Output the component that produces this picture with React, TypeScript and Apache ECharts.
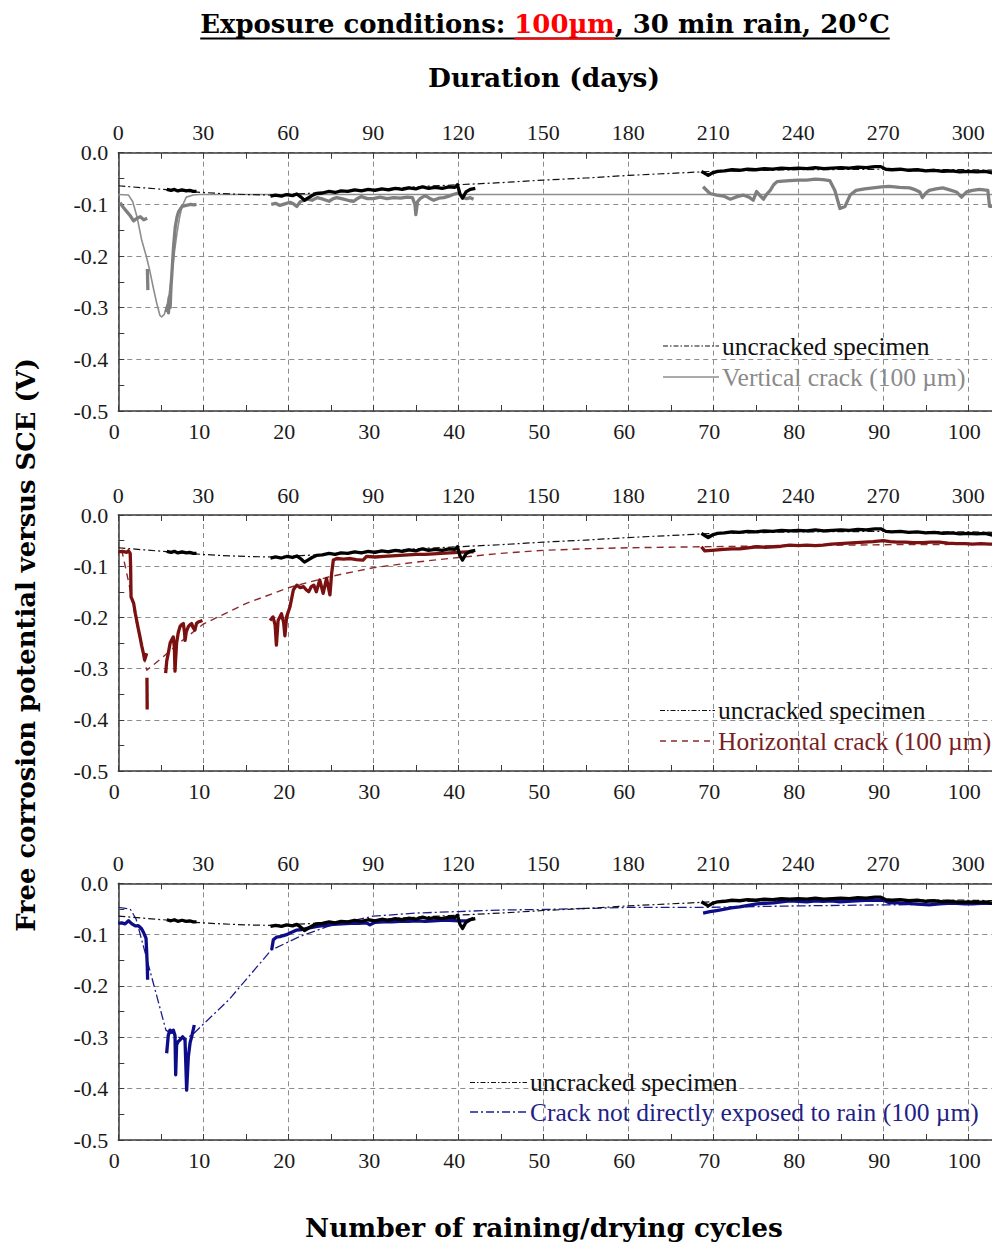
import React, { useEffect, useRef } from 'react';
import * as echarts from 'echarts';

// ---------- tick labels ----------
const CYCLE_TICKS = [0, 10, 20, 30, 40, 50, 60, 70, 80, 90, 100];
const DAY_TICKS = [0, 30, 60, 90, 120, 150, 180, 210, 240, 270, 300];
const POT_TICKS = [0, -0.1, -0.2, -0.3, -0.4, -0.5];
const DAYS_PER_CYCLE = 3;
const X_MAX = 103.7;

// ---------- uncracked specimen (same specimen in all three panels) ----------
const UNC_FIT = [[0,-0.064],[3,-0.068],[6,-0.072],[9,-0.076],[12,-0.079],[15,-0.081],[18,-0.082],[22,-0.079],[26,-0.075],[30,-0.071],[35,-0.066],[40,-0.062],[45,-0.058],[50,-0.053],[55,-0.049],[60,-0.044],[65,-0.040],[70,-0.036],[80,-0.033],[90,-0.032],[100,-0.033],[103.7,-0.034]];
const UNC_A = [[5.7,-0.071],[6.2,-0.073],[6.6,-0.071],[7.0,-0.074],[7.5,-0.072],[8.0,-0.074],[8.4,-0.073],[8.8,-0.075],[9.2,-0.075]];
const UNC_B = [[17.9,-0.084],[18.5,-0.082],[19.2,-0.084],[19.8,-0.081],[20.5,-0.083],[21.0,-0.080],[21.5,-0.086],[21.9,-0.092],[22.3,-0.088],[22.8,-0.083],[23.3,-0.079],[24.0,-0.078],[24.8,-0.075],[25.5,-0.077],[26.2,-0.074],[27.0,-0.075],[27.8,-0.072],[28.6,-0.074],[29.4,-0.071],[30.2,-0.073],[31.0,-0.070],[31.8,-0.072],[32.6,-0.069],[33.4,-0.071],[34.2,-0.068],[35.0,-0.070],[35.8,-0.066],[36.5,-0.069],[37.3,-0.067],[38.1,-0.069],[38.9,-0.066],[39.6,-0.067],[39.9,-0.062],[40.2,-0.080],[40.5,-0.088],[40.9,-0.076],[41.4,-0.071],[42.0,-0.069]];
const UNC_C = [[68.6,-0.036],[69.0,-0.040],[69.4,-0.044],[69.9,-0.039],[70.5,-0.036],[71.3,-0.035],[72.2,-0.033],[73.1,-0.034],[74.0,-0.032],[75.0,-0.033],[76.0,-0.031],[77.0,-0.032],[78.0,-0.030],[79.0,-0.031],[80.0,-0.030],[81.0,-0.031],[82.0,-0.029],[83.0,-0.031],[84.0,-0.030],[85.0,-0.029],[86.0,-0.030],[87.0,-0.028],[88.0,-0.029],[89.0,-0.027],[89.7,-0.027],[90.3,-0.032],[91.0,-0.033],[92.0,-0.032],[93.0,-0.034],[94.0,-0.033],[95.0,-0.035],[96.0,-0.034],[97.0,-0.036],[98.0,-0.035],[99.0,-0.037],[100.0,-0.036],[101.0,-0.037],[102.0,-0.036],[103.0,-0.040],[103.7,-0.041]];

// ---------- vertical crack (panel 1) ----------
const VC_FIT = [[0,-0.081],[1.2,-0.082],[1.7,-0.095],[2.2,-0.124],[2.75,-0.169],[3.3,-0.201],[3.7,-0.228],[4.1,-0.26],[4.5,-0.29],[4.9,-0.315],[5.1,-0.318],[5.4,-0.313],[5.7,-0.299],[6.0,-0.272],[6.3,-0.234],[6.6,-0.193],[6.9,-0.156],[7.2,-0.126],[7.5,-0.104],[8.0,-0.086],[8.8,-0.082],[9.5,-0.081],[103.7,-0.081]];
const VC_A = [[0.2,-0.097],[0.6,-0.106],[1.0,-0.114],[1.4,-0.122],[1.8,-0.132],[2.2,-0.127],[2.6,-0.124],[3.0,-0.130],[3.4,-0.127]];
const VC_A2 = [[3.42,-0.225],[3.48,-0.266]];
const VC_A3 = [[5.6,-0.308],[5.8,-0.296],[5.9,-0.31],[6.0,-0.28],[6.1,-0.30],[6.2,-0.26],[6.3,-0.235],[6.5,-0.182],[6.7,-0.144],[6.9,-0.125],[7.1,-0.114],[7.5,-0.104],[8.0,-0.102],[8.5,-0.100],[8.9,-0.101],[9.2,-0.100]];
const VC_B = [[18.0,-0.100],[18.5,-0.098],[19.0,-0.102],[19.6,-0.099],[20.2,-0.096],[20.6,-0.099],[21.0,-0.104],[21.4,-0.095],[22.2,-0.090],[22.8,-0.092],[23.4,-0.087],[24.1,-0.090],[24.8,-0.094],[25.3,-0.089],[25.7,-0.087],[26.5,-0.090],[27.2,-0.093],[27.7,-0.094],[28.2,-0.088],[28.6,-0.085],[29.3,-0.089],[30.0,-0.089],[30.8,-0.086],[31.6,-0.089],[32.4,-0.087],[33.2,-0.088],[34.0,-0.086],[34.6,-0.087],[34.9,-0.100],[35.0,-0.120],[35.2,-0.095],[35.5,-0.089],[36.1,-0.083],[36.6,-0.088],[37.1,-0.092],[37.7,-0.088],[38.3,-0.087],[38.9,-0.084],[39.4,-0.081],[40.0,-0.078],[40.3,-0.082],[40.6,-0.087],[41.0,-0.089],[41.4,-0.087],[41.8,-0.090]];
const VC_C = [[68.8,-0.066],[69.6,-0.079],[70.4,-0.082],[71.2,-0.084],[72.0,-0.090],[72.8,-0.085],[73.5,-0.082],[74.2,-0.086],[74.7,-0.092],[75.1,-0.075],[75.5,-0.083],[75.9,-0.090],[76.3,-0.080],[76.7,-0.073],[77.1,-0.062],[77.5,-0.056],[78.2,-0.055],[79.0,-0.054],[80.0,-0.053],[81.0,-0.053],[82.0,-0.051],[82.9,-0.052],[83.7,-0.054],[84.3,-0.073],[84.9,-0.108],[85.5,-0.104],[86.1,-0.082],[86.8,-0.073],[87.8,-0.070],[88.8,-0.068],[89.8,-0.066],[90.7,-0.065],[91.9,-0.067],[93.1,-0.068],[93.8,-0.072],[94.3,-0.076],[94.6,-0.087],[95.0,-0.078],[95.4,-0.073],[96.2,-0.070],[97.0,-0.068],[97.8,-0.072],[98.6,-0.076],[99.2,-0.086],[99.8,-0.076],[100.5,-0.073],[101.3,-0.071],[102.3,-0.073],[102.5,-0.104],[103.7,-0.104]];

// ---------- horizontal crack (panel 2) ----------
const HC_FIT = [[0.4,-0.068],[1.2,-0.13],[2.2,-0.215],[3.35,-0.303],[5,-0.281],[7,-0.252],[10,-0.213],[15,-0.173],[20,-0.142],[25,-0.120],[30,-0.103],[35,-0.092],[40,-0.083],[45,-0.075],[50,-0.069],[55,-0.066],[60,-0.064],[68.5,-0.062],[80,-0.060],[90,-0.058],[103.7,-0.057]];
const HC_A = [[0,-0.072],[0.5,-0.071],[1.0,-0.073],[1.2,-0.070],[1.4,-0.075],[1.45,-0.101],[1.5,-0.160],[1.8,-0.172],[2.0,-0.192],[2.15,-0.205],[2.35,-0.222],[2.55,-0.238],[2.75,-0.255],[2.95,-0.270],[3.1,-0.283],[3.2,-0.278],[3.33,-0.270]];
const HC_A2 = [[3.37,-0.318],[3.40,-0.380]];
const HC_A3 = [[5.57,-0.309],[5.7,-0.285],[5.88,-0.270],[6.1,-0.250],[6.27,-0.244],[6.47,-0.238],[6.6,-0.260],[6.67,-0.305],[6.75,-0.280],[6.86,-0.250],[7.05,-0.230],[7.26,-0.218],[7.45,-0.214],[7.65,-0.212],[7.8,-0.230],[7.85,-0.245],[8.0,-0.228],[8.24,-0.218],[8.45,-0.214],[8.63,-0.212],[8.8,-0.220],[9.0,-0.225],[9.2,-0.212],[9.4,-0.209],[9.9,-0.206]];
const HC_B = [[17.85,-0.206],[18.2,-0.199],[18.45,-0.215],[18.6,-0.254],[18.8,-0.206],[19.2,-0.193],[19.45,-0.210],[19.6,-0.236],[19.8,-0.199],[20.2,-0.179],[20.6,-0.146],[21.0,-0.137],[21.4,-0.142],[21.8,-0.140],[22.1,-0.146],[22.4,-0.150],[22.7,-0.140],[23.0,-0.137],[23.3,-0.150],[23.7,-0.127],[24.1,-0.153],[24.5,-0.124],[24.9,-0.156],[25.1,-0.114],[25.3,-0.088],[25.7,-0.085],[26.5,-0.086],[27.3,-0.085],[28.0,-0.087],[28.8,-0.088],[29.2,-0.081],[30.2,-0.082],[31.2,-0.081],[32.2,-0.080],[33.1,-0.079],[34.1,-0.078],[35.1,-0.077],[36.1,-0.077],[37.1,-0.076],[38.0,-0.075],[39.0,-0.074],[40.0,-0.073],[41.0,-0.072],[41.8,-0.072]];
const HC_C = [[68.6,-0.062],[69.0,-0.070],[69.8,-0.069],[70.5,-0.068],[71.2,-0.067],[72.2,-0.066],[73.1,-0.066],[74.1,-0.064],[75.1,-0.062],[76.1,-0.063],[77.1,-0.062],[78.0,-0.061],[79.0,-0.059],[80.0,-0.060],[81.0,-0.059],[82.0,-0.060],[82.9,-0.059],[83.9,-0.057],[84.9,-0.056],[85.8,-0.055],[86.8,-0.054],[87.8,-0.053],[88.8,-0.052],[90.0,-0.050],[90.8,-0.052],[91.6,-0.053],[92.6,-0.053],[93.6,-0.054],[94.6,-0.054],[95.6,-0.053],[96.6,-0.053],[97.6,-0.055],[98.6,-0.056],[99.6,-0.056],[100.5,-0.057],[101.5,-0.056],[102.5,-0.057],[103.7,-0.057]];

// ---------- crack not directly exposed to rain (panel 3) ----------
const NC_FIT = [[0,-0.047],[1.4,-0.050],[2.1,-0.070],[3.4,-0.150],[5.6,-0.286],[6.5,-0.296],[7.4,-0.302],[8.0,-0.303],[8.9,-0.292],[13,-0.227],[18,-0.130],[21.3,-0.104],[25,-0.082],[30,-0.064],[35,-0.058],[40,-0.055],[45,-0.052],[50,-0.051],[60,-0.047],[68.6,-0.047],[80,-0.044],[90,-0.042],[103.7,-0.040]];
const NC_A = [[0,-0.078],[0.4,-0.077],[0.8,-0.079],[1.2,-0.073],[1.6,-0.079],[2.0,-0.083],[2.4,-0.083],[2.75,-0.089],[3.0,-0.097],[3.26,-0.107],[3.33,-0.130],[3.41,-0.162],[3.45,-0.188]];
const NC_A3 = [[5.69,-0.331],[5.88,-0.296],[6.08,-0.286],[6.3,-0.290],[6.47,-0.286],[6.67,-0.296],[6.75,-0.373],[6.86,-0.315],[7.05,-0.308],[7.26,-0.305],[7.57,-0.299],[7.85,-0.305],[8.04,-0.403],[8.24,-0.338],[8.45,-0.310],[8.63,-0.299],[8.94,-0.276]];
const NC_B = [[18.04,-0.130],[18.24,-0.110],[18.6,-0.105],[19.0,-0.104],[19.4,-0.102],[19.8,-0.100],[20.2,-0.097],[20.6,-0.094],[21.0,-0.091],[21.6,-0.090],[22.2,-0.088],[22.8,-0.086],[23.4,-0.084],[24.3,-0.082],[25.3,-0.080],[26.3,-0.079],[27.3,-0.078],[28.3,-0.078],[29.2,-0.077],[29.6,-0.081],[30.2,-0.076],[31.2,-0.075],[32.2,-0.075],[33.1,-0.074],[34.1,-0.074],[35.1,-0.073],[36.1,-0.074],[37.1,-0.073],[38.0,-0.072],[39.0,-0.072],[40.0,-0.073],[41.0,-0.073],[41.8,-0.068]];
const NC_C = [[68.8,-0.058],[69.6,-0.055],[70.4,-0.053],[71.2,-0.051],[72.1,-0.048],[73.1,-0.046],[74.1,-0.043],[75.1,-0.040],[76.1,-0.039],[77.1,-0.038],[78.0,-0.036],[79.0,-0.034],[80.0,-0.035],[81.0,-0.036],[82.0,-0.034],[82.9,-0.035],[83.9,-0.034],[84.9,-0.036],[85.8,-0.035],[86.8,-0.034],[87.8,-0.033],[88.8,-0.033],[90.0,-0.033],[90.7,-0.038],[91.7,-0.038],[92.7,-0.039],[93.6,-0.040],[94.5,-0.041],[95.4,-0.042],[96.6,-0.040],[97.6,-0.039],[98.6,-0.039],[99.6,-0.040],[100.5,-0.040],[101.5,-0.039],[102.5,-0.039],[103.7,-0.040]];

// ---------- texts ----------
const TITLE_PARTS = ['Exposure conditions: ', '100µm', ', 30 min rain, 20°C'];
const TOP_TITLE = 'Duration (days)';
const Y_TITLE = 'Free corrosion potential versus SCE (V)';
const X_TITLE = 'Number of raining/drying cycles';
const LEGEND_UNC = 'uncracked specimen';
const LEGEND_CRACKS = ['Vertical crack (100 µm)', 'Horizontal crack (100 µm)', 'Crack not directly exposed to rain (100 µm)'];

const SERIF = '"Liberation Serif", "Times New Roman", serif';
const BOLD = '"DejaVu Serif", serif';
const AXIS = '#3a3a3a';
const GRIDC = '#8c8c8c';
const GRAY = '#7f7f7f';
const RED = '#7a1010';
const BLUE = '#0d0d8a';

const GRID_LEFT = 118.3;
const PX_PER_CYCLE = 8.5;
const GRID_TOPS = [152.7, 515, 883.3];
const GRID_HS = [258.3, 256, 256.7];

function measure(text: string, font: string) {
  const c = document.createElement('canvas').getContext('2d');
  if (!c) return text.length * 10;
  c.font = font;
  return c.measureText(text).width;
}
function fitSize(text: string, weight: string, family: string, target: number) {
  const w = measure(text, `${weight} 20px ${family}`);
  return (20 * target) / w;
}

export default function App() {
  const ref = useRef<HTMLDivElement>(null);
  useEffect(() => {
    if (!ref.current) return;
    const chart = echarts.init(ref.current, null, { renderer: 'svg' });

    const xAxes: any[] = [];
    const yAxes: any[] = [];
    const grids: any[] = [];
    GRID_TOPS.forEach((top, i) => {
      grids.push({ left: GRID_LEFT, top, width: X_MAX * PX_PER_CYCLE, height: GRID_HS[i] });
      xAxes.push({
        type: 'value', gridIndex: i, position: 'bottom',
        min: CYCLE_TICKS[0], max: X_MAX, interval: CYCLE_TICKS[1] - CYCLE_TICKS[0],
        axisLine: { show: true, onZero: false, lineStyle: { color: AXIS, width: 1.5 } },
        axisTick: { show: true, inside: true, length: 6, lineStyle: { color: AXIS } },
        minorTick: { show: true, splitNumber: 2, length: 6, lineStyle: { color: AXIS } },
        splitLine: { show: true, lineStyle: { color: GRIDC, width: 1, type: [5, 4] } },
        axisLabel: {
          showMaxLabel: false, fontFamily: SERIF, fontSize: 22, color: '#1a1a1a', margin: 9, padding: [0, 8, 0, 0],
          formatter: (v: number) => (CYCLE_TICKS.includes(Math.round(v)) ? String(Math.round(v)) : ''),
        },
      });
      xAxes.push({
        type: 'value', gridIndex: i, position: 'top',
        min: DAY_TICKS[0], max: X_MAX * DAYS_PER_CYCLE, interval: DAY_TICKS[1] - DAY_TICKS[0],
        axisLine: { show: true, onZero: false, lineStyle: { color: AXIS, width: 1.5 } },
        axisTick: { show: true, inside: true, length: 6, lineStyle: { color: AXIS } },
        minorTick: { show: true, splitNumber: 2, length: 6, lineStyle: { color: AXIS } },
        splitLine: { show: false },
        axisLabel: {
          showMaxLabel: false, fontFamily: SERIF, fontSize: 22, color: '#1a1a1a', margin: 9,
          formatter: (v: number) => (DAY_TICKS.includes(Math.round(v)) ? String(Math.round(v)) : ''),
        },
      });
      yAxes.push({
        type: 'value', gridIndex: i,
        min: POT_TICKS[POT_TICKS.length - 1], max: POT_TICKS[0], interval: 0.1,
        axisLine: { show: true, onZero: false, lineStyle: { color: AXIS, width: 1.5 } },
        axisTick: { show: true, inside: true, length: 6, lineStyle: { color: AXIS } },
        minorTick: { show: true, splitNumber: 2, length: 6, lineStyle: { color: AXIS } },
        splitLine: { show: true, lineStyle: { color: GRIDC, width: 1, type: [5, 4] } },
        axisLabel: { fontFamily: SERIF, fontSize: 22, color: '#1a1a1a', margin: 10, formatter: (v: number) => v.toFixed(1) },
      });
    });

    const series: any[] = [];
    const add = (gi: number, data: number[][], color: string, width: number, type: any, z: number) => {
      series.push({
        type: 'line', data, xAxisIndex: gi * 2, yAxisIndex: gi, showSymbol: false, symbol: 'none',
        silent: true, z, lineStyle: { color, width, type, join: 'round' },
      });
    };
    const uncDash = [7, 3, 2, 3];
    const crackSets = [
      { fit: VC_FIT, fitType: 'solid', fitColor: '#8e8e8e', fitW: 1.6, color: GRAY, segs: [VC_A, VC_A2, VC_A3, VC_B, VC_C] },
      { fit: HC_FIT, fitType: [7, 5], fitColor: '#8a2a2a', fitW: 1.4, color: RED, segs: [HC_A, HC_A2, HC_A3, HC_B, HC_C] },
      { fit: NC_FIT, fitType: [9, 3, 2, 3], fitColor: '#1c1c8c', fitW: 1.3, color: BLUE, segs: [NC_A, NC_A3, NC_B, NC_C] },
    ];
    crackSets.forEach((cs, gi) => {
      add(gi, cs.fit, cs.fitColor, cs.fitW, cs.fitType, 2);
      add(gi, UNC_FIT, '#111', 1.2, uncDash, 3);
      cs.segs.forEach((s) => add(gi, s, cs.color, 3.3, 'solid', 4));
      [UNC_A, UNC_B, UNC_C].forEach((s) => add(gi, s, '#000', 3.3, 'solid', 5));
    });

    // ----- texts -----
    const graphic: any[] = [];
    const titleTarget = 690;
    const joined = TITLE_PARTS.join('');
    const ts = fitSize(joined, 'bold', BOLD, titleTarget);
    const tFont = `bold ${ts}px ${BOLD}`;
    const w1 = measure(TITLE_PARTS[0], tFont);
    const w2 = measure(TITLE_PARTS[1], tFont);
    const wAll = measure(joined, tFont);
    const x0 = 545 - wAll / 2;
    const tY = 24;
    const parts = [
      { t: TITLE_PARTS[0], x: x0, c: '#000' },
      { t: TITLE_PARTS[1], x: x0 + w1, c: '#ff0000' },
      { t: TITLE_PARTS[2], x: x0 + w1 + w2, c: '#000' },
    ];
    parts.forEach((p) =>
      graphic.push({ type: 'text', x: p.x, y: tY, silent: true, style: { text: p.t, font: tFont, fill: p.c, align: 'left', verticalAlign: 'middle' } })
    );
    graphic.push({ type: 'line', silent: true, shape: { x1: x0, y1: 38.5, x2: x0 + wAll, y2: 38.5 }, style: { stroke: '#000', lineWidth: 2 } });
    graphic.push({ type: 'line', silent: true, shape: { x1: x0 + w1, y1: 38.5, x2: x0 + w1 + w2, y2: 38.5 }, style: { stroke: '#ff0000', lineWidth: 2 } });

    const bigText = (text: string, x: number, y: number, target: number, rot = 0) => {
      const s = fitSize(text, 'bold', BOLD, target);
      graphic.push({
        type: 'text', x, y, rotation: rot, silent: true,
        style: { text, font: `bold ${s}px ${BOLD}`, fill: '#000', align: 'center', verticalAlign: 'middle' },
      });
    };
    bigText(TOP_TITLE, 544, 77, 232);
    bigText(X_TITLE, 544, 1227, 478);
    bigText(Y_TITLE, 26, 645, 574, Math.PI / 2);

    // ----- legends -----
    const legends = [
      { lx: 663, tx: 722, y1: 346, y2: 377, color: '#8a8a8a', dash: null as any, lineColor: '#8e8e8e' },
      { lx: 660, tx: 718, y1: 710.5, y2: 741, color: '#7a1f1f', dash: [6, 5], lineColor: '#8a2a2a' },
      { lx: 470, tx: 530, y1: 1082.5, y2: 1112, color: '#1f1f86', dash: [8, 3, 2, 3], lineColor: '#1c1c8c' },
    ];
    legends.forEach((lg, i) => {
      graphic.push({ type: 'line', silent: true, z: 50, shape: { x1: lg.lx, y1: lg.y1, x2: lg.tx - 3, y2: lg.y1 }, style: { stroke: '#111', lineWidth: 1.2, lineDash: [5, 2, 1.5, 2] } });
      graphic.push({ type: 'line', silent: true, z: 50, shape: { x1: lg.lx, y1: lg.y2, x2: lg.tx - 3, y2: lg.y2 }, style: { stroke: lg.lineColor, lineWidth: 1.5, lineDash: lg.dash || undefined } });
      graphic.push({ type: 'text', silent: true, z: 50, x: lg.tx, y: lg.y1, style: { text: LEGEND_UNC, font: `25.5px ${SERIF}`, fill: '#111', align: 'left', verticalAlign: 'middle' } });
      graphic.push({ type: 'text', silent: true, z: 50, x: lg.tx, y: lg.y2, style: { text: LEGEND_CRACKS[i], font: `25.5px ${SERIF}`, fill: lg.color, align: 'left', verticalAlign: 'middle' } });
    });

    chart.setOption({
      animation: false,
      backgroundColor: '#ffffff',
      grid: grids,
      xAxis: xAxes,
      yAxis: yAxes,
      series,
      graphic,
    });
    return () => chart.dispose();
  }, []);

  return (
    <div style={{ position: 'fixed', left: 0, top: 0, width: 992, height: 1245, overflow: 'hidden', background: '#fff' }}>
      <div ref={ref} style={{ width: 1010, height: 1245 }} />
    </div>
  );
}
